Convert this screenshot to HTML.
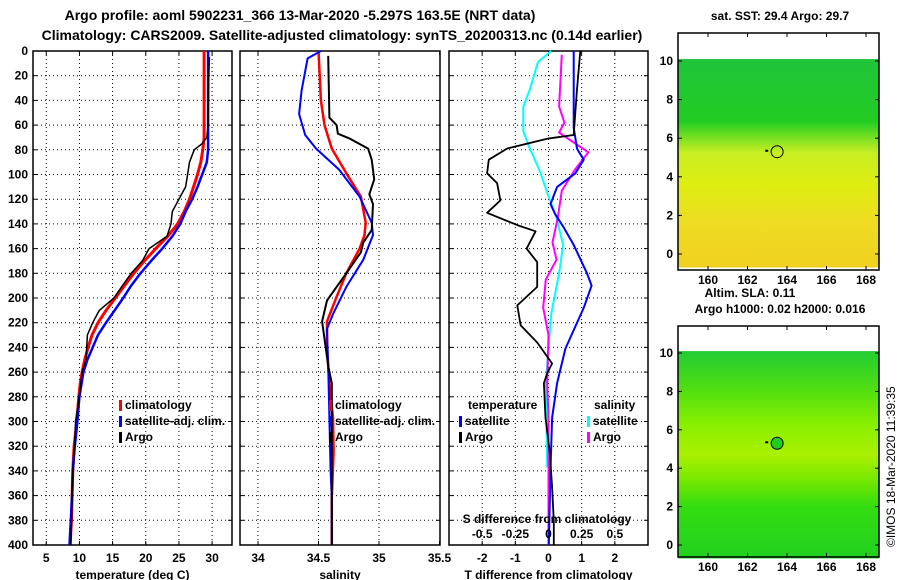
<!DOCTYPE html>
<html><head><meta charset="utf-8">
<style>
html,body{margin:0;padding:0;background:#fff;}
svg{display:block;font-family:"Liberation Sans",sans-serif;font-weight:bold;}
</style></head>
<body>
<svg id="c" width="900" height="580" viewBox="0 0 900 580" xmlns="http://www.w3.org/2000/svg">
<defs>
<linearGradient id="sstg" x1="0" y1="0" x2="0" y2="1">
<stop offset="0" stop-color="#1fc43a"/><stop offset="0.3" stop-color="#22cc22"/>
<stop offset="0.36" stop-color="#66dd22"/><stop offset="0.45" stop-color="#c8ee22"/>
<stop offset="0.6" stop-color="#ddee11"/><stop offset="0.78" stop-color="#eedd22"/>
<stop offset="1" stop-color="#f0d020"/></linearGradient>
<linearGradient id="slag" x1="0" y1="0" x2="0" y2="1">
<stop offset="0" stop-color="#22cc33"/><stop offset="0.2" stop-color="#55e010"/>
<stop offset="0.35" stop-color="#88f000"/><stop offset="0.5" stop-color="#aaf000"/>
<stop offset="0.62" stop-color="#77e800"/><stop offset="0.75" stop-color="#33dd10"/>
<stop offset="1" stop-color="#22d020"/></linearGradient>
</defs>
<g id="root"></g>
</svg>
<script>
// ---------- data ----------
const tDepth = [0,20,40,60,70,80,90,100,110,120,130,140,150,160,170,180,190,200,210,220,230,240,250,260,270,280,300,320,340,360,380,400];
const tClim  = [28.8,28.8,28.8,28.8,28.8,28.6,28.3,27.8,27.2,26.6,25.8,24.8,23.3,21.5,19.8,18.2,16.8,15.4,14.0,12.8,11.9,11.3,10.8,10.4,10.1,9.9,9.6,9.2,9.0,8.9,8.8,8.6];
const tSat   = [29.4,29.4,29.4,29.4,29.4,29.4,29.2,28.5,27.8,27.0,26.0,25.2,24.0,22.5,20.8,19.2,17.8,16.6,15.3,14.0,12.8,12.0,11.2,10.6,10.3,10.0,9.7,9.3,9.0,8.9,8.7,8.5];
const aDepth = [5,20,60,70,75,80,90,100,110,120,130,140,150,160,170,180,190,200,210,220,230,240,250,260,280,300,320,340,360,380,400];
const tArgo  = [29.6,29.5,29.4,29.2,28.5,27.3,26.6,26.3,26.0,25.0,24.0,23.8,23.2,20.5,19.5,17.8,16.5,15.2,13.0,12.0,11.2,11.1,11.0,10.4,10.0,9.4,9.3,9.0,8.9,8.8,8.7];
const sClimD = [0,20,40,60,79,99,118,139,149,160,180,199,219,241,269,297,325,362,400];
const sClim  = [34.5,34.51,34.52,34.55,34.61,34.73,34.85,34.89,34.88,34.84,34.73,34.65,34.57,34.57,34.59,34.62,34.625,34.61,34.61];
const sSatD  = [0,6,32,51,68,79,96,118,139,149,169,191,213,225,255,297,340,362,400];
const sSat   = [34.52,34.41,34.36,34.34,34.39,34.48,34.67,34.84,34.94,34.95,34.87,34.73,34.62,34.57,34.58,34.59,34.6,34.61,34.61];
const sArgoD = [4,54,60,67,71,79,88,104,116,124,145,155,163,180,191,202,219,233,255,269,300,350,400];
const sArgo  = [34.58,34.59,34.65,34.66,34.76,34.91,34.94,34.96,34.92,34.95,34.94,34.87,34.85,34.73,34.65,34.57,34.53,34.55,34.58,34.61,34.61,34.61,34.61];
const dtSatD = [0,62,79,88,99,110,124,132,143,157,180,190,208,241,269,297,339,400];
const dtSat  = [0.76,0.76,0.86,1.06,0.81,0.26,0.06,0.2,0.46,0.76,1.16,1.3,1.06,0.51,0.26,0.11,0.06,0.01];
const dtArgoD= [0,31,68,71,79,88,99,107,121,131,141,146,160,171,191,206,222,236,253,261,269,297,325,353,381,400];
const dtArgo = [0.96,0.86,0.76,-0.04,-1.25,-1.8,-1.85,-1.55,-1.45,-1.85,-0.94,-0.39,-0.66,-0.34,-0.34,-0.94,-0.84,-0.34,0.11,-0.04,-0.14,-0.09,0.04,0.11,0.16,0.16];
const dsSatD = [0,9,31,45,65,79,96,116,135,157,180,213,241,269,337];
const dsSat  = [0.02,-0.08,-0.14,-0.19,-0.19,-0.14,-0.07,-0.005,0.06,0.11,0.08,0.02,0,-0.02,-0.01];
const dsArgoD= [3,45,58,66,69,82,96,113,135,155,169,185,208,230,269,297,400];
const dsArgo = [0.1,0.08,0.12,0.08,0.12,0.3,0.2,0.1,0.07,0.03,0.06,-0.02,-0.04,0,-0.01,0,0];
const depthTicks = [0,20,40,60,80,100,120,140,160,180,200,220,240,260,280,300,320,340,360,380,400];
const tTicks = [5,10,15,20,25,30];
const sTicks = [34,34.5,35,35.5];
const dtTicks = [-2,-1,0,1,2];
const dsTicks = [-0.5,-0.25,0,0.25,0.5];
const lonTicks = [160,162,164,166,168];
const latTicks = [0,2,4,6,8,10];
const argoPos = [163.5, 5.3];

// ---------- helpers ----------
const NS='http://www.w3.org/2000/svg';
const root=document.getElementById('root');
function mk(tag,attrs,parent,text){const e=document.createElementNS(NS,tag);for(const k in attrs)e.setAttribute(k,attrs[k]);if(text!==undefined)e.textContent=text;(parent||root).appendChild(e);return e;}
const Y0=51,Y1=545;
const yD=d=>Y0+(d/400)*(Y1-Y0);
function lin(d0,d1,r0,r1){return v=>r0+(v-d0)/(d1-d0)*(r1-r0);}

function panel(name,x0,x1,xs,ticks,fmt,xlabel,showY){
  const g=mk('g',{});
  
  
  // gridlines
  ticks.forEach(t=>{const x=xs(t);if(x>x0+1&&x<x1-1)mk('line',{x1:x,x2:x,y1:Y0,y2:Y1,stroke:'#000','stroke-width':1,'stroke-dasharray':'1,3'},g);});
  depthTicks.forEach(d=>{const y=yD(d);if(d>0&&d<400)mk('line',{x1:x0,x2:x1,y1:y,y2:y,stroke:'#000','stroke-width':1,'stroke-dasharray':'1,3'},g);
    mk('line',{x1:x0,x2:x0+4,y1:y,y2:y,stroke:'#000'},g);mk('line',{x1:x1-4,x2:x1,y1:y,y2:y,stroke:'#000'},g);
    if(showY){const t=mk('text',{x:28,y:y+4,'text-anchor':'end','font-size':12},g,String(d));}});
  ticks.forEach(t=>{const x=xs(t);mk('line',{x1:x,x2:x,y1:Y1,y2:Y1-4,stroke:'#000'},g);mk('line',{x1:x,x2:x,y1:Y0,y2:Y0+4,stroke:'#000'},g);
    const tl=mk('text',{x:Math.min(x,x1+2),y:562,'text-anchor':'middle','font-size':12},g,fmt(t));});
  mk('rect',{x:x0,y:Y0,width:x1-x0,height:Y1-Y0,fill:'none',stroke:'#000','stroke-width':1.5},g);
  const xl=mk('text',{x:(x0+x1)/2,y:579,'text-anchor':'middle','font-size':12},g,xlabel);
  
  return g;
}
function series(g,name,xs,vals,depths,color,w){
  const pts=vals.map((v,i)=>xs(v).toFixed(1)+','+yD(depths[i]).toFixed(1)).join(' ');
  const p=mk('polyline',{points:pts,fill:'none',stroke:color,'stroke-width':w,'stroke-linejoin':'round'},g);
  
  
}
function legendEntry(g,name,x,y,color,label){
  const le=mk('g',{},g);
  
  
  mk('rect',{x:x,y:y-9,width:3,height:11,fill:color},le);
  mk('text',{x:x+6,y:y,'font-size':12},le,label);
}

// ---------- titles ----------
let t1=mk('text',{x:300,y:20,'text-anchor':'middle','font-size':14},root,'Argo profile: aoml 5902231_366 13-Mar-2020 -5.297S 163.5E (NRT data)');

let t2=mk('text',{x:342,y:40,'text-anchor':'middle','font-size':14},root,'Climatology: CARS2009. Satellite-adjusted climatology: synTS_20200313.nc (0.14d earlier)');


// ---------- panel 1: temperature ----------
const xT=lin(3,33,33,232);
const p1=panel('temperature-panel',33,232,xT,tTicks,String,'temperature (deg C)',true);
series(p1,'temperature-climatology-line',xT,tClim,tDepth,'#ff0000',3);
series(p1,'temperature-satellite-line',xT,tSat,tDepth,'#0000ff',2.5);
series(p1,'temperature-argo-line',xT,tArgo,aDepth,'#000',1.5);
legendEntry(p1,'legend-climatology',119,409,'#ff0000','climatology');
legendEntry(p1,'legend-satellite-adj',119,425,'#0000ff','satellite-adj. clim.');
legendEntry(p1,'legend-argo',119,441,'#000','Argo');

// ---------- panel 2: salinity ----------
const xS=lin(34,35,258,379);
const p2=panel('salinity-panel',240,440,xS,sTicks,String,'salinity',false);
series(p2,'salinity-climatology-line',xS,sClim,sClimD,'#ff0000',2.5);
series(p2,'salinity-satellite-line',xS,sSat,sSatD,'#0000ff',2);
series(p2,'salinity-argo-line',xS,sArgo,sArgoD,'#000',2);
legendEntry(p2,'legend-climatology-sal',329,409,'#ff0000','climatology');
legendEntry(p2,'legend-satellite-adj-sal',329,425,'#0000ff','satellite-adj. clim.');
legendEntry(p2,'legend-argo-sal',329,441,'#000','Argo');

// ---------- panel 3: differences ----------
const xDT=lin(-3,3,449,648);
const xDS=lin(-0.75,0.75,449,648);
const p3=panel('difference-panel',449,648,xDT,dtTicks,String,'T difference from climatology',false);
series(p3,'s-diff-satellite-line',xDS,dsSat,dsSatD,'#00ffff',2);
series(p3,'s-diff-argo-line',xDS,dsArgo,dsArgoD,'#ff00ff',2);
series(p3,'t-diff-satellite-line',xDT,dtSat,dtSatD,'#0000ff',2);
series(p3,'t-diff-argo-line',xDT,dtArgo,dtArgoD,'#000',1.8);
let lt=mk('text',{x:468,y:409,'font-size':12},p3,'temperature');
let ls=mk('text',{x:594,y:409,'font-size':12},p3,'salinity');
legendEntry(p3,'legend-t-satellite',459,425,'#0000ff','satellite');
legendEntry(p3,'legend-t-argo',459,441,'#000','Argo');
legendEntry(p3,'legend-s-satellite',587,425,'#00ffff','satellite');
legendEntry(p3,'legend-s-argo',587,441,'#ff00ff','Argo');
let st=mk('text',{x:547,y:523,'text-anchor':'middle','font-size':12},p3,'S difference from climatology');
dsTicks.forEach(v=>{const tx=mk('text',{x:xDS(v),y:538,'text-anchor':'middle','font-size':12},p3,String(v));});

// ---------- maps ----------
function map(name,title,top,lat10y,lat0y,bottom,fill,filled){
  const g=mk('g',{});
  
  
  const mx=lin(160,168,708,866), my=lin(0,10,lat0y,lat10y);
  const X0=678,X1=879;
  const yTop=my(10.1), yBot=my(-0.7);
  mk('rect',{x:X0,y:yTop,width:X1-X0,height:yBot-yTop,fill:fill},g);
  mk('rect',{x:X0,y:top,width:X1-X0,height:bottom-top,fill:'none',stroke:'#000','stroke-width':1.5},g);
  lonTicks.forEach(v=>{const x=mx(v);mk('line',{x1:x,x2:x,y1:bottom,y2:bottom-4,stroke:'#000'},g);mk('line',{x1:x,x2:x,y1:top,y2:top+4,stroke:'#000'},g);
    const l=mk('text',{x:x,y:bottom+14,'text-anchor':'middle','font-size':12},g,String(v));});
  latTicks.forEach(v=>{const y=my(v);mk('line',{x1:X0,x2:X0+4,y1:y,y2:y,stroke:'#000'},g);mk('line',{x1:X1-4,x2:X1,y1:y,y2:y,stroke:'#000'},g);
    const l=mk('text',{x:673,y:y+4,'text-anchor':'end','font-size':12},g,String(v));});
  const c=mk('circle',{cx:mx(argoPos[0]),cy:my(argoPos[1]),r:6,fill:filled?'#22cc22':'none',stroke:'#000','stroke-width':1},g);
  
  mk('rect',{x:mx(163)-2,y:my(5.35)-1,width:3,height:2,fill:'#000'},g);
  return g;
}
const m1=map('sst-map','',33,61,254,270,'url(#sstg)',false);
let mt1=mk('text',{x:780,y:20,'text-anchor':'middle','font-size':12},root,'sat. SST: 29.4 Argo: 29.7');
const m2=map('sla-map','',326,353,545,557,'url(#slag)',true);
let mt2=mk('text',{x:750,y:297,'text-anchor':'middle','font-size':12},root,'Altim. SLA: 0.11');
let mt3=mk('text',{x:780,y:313,'text-anchor':'middle','font-size':12},root,'Argo h1000: 0.02 h2000: 0.016');
let cr=mk('text',{x:0,y:0,'font-size':12,'font-weight':'normal',transform:'translate(895,547) rotate(-90)'},root,'©IMOS 18-Mar-2020 11:39:35');

</script>
</body></html>
